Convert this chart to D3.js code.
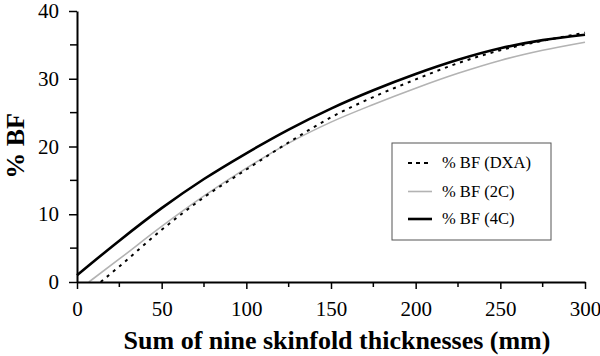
<!DOCTYPE html>
<html>
<head>
<meta charset="utf-8">
<script src="https://cdn.jsdelivr.net/npm/d3@7"></script>
<style>
body{margin:0;background:#fff;}
text{font-family:"Liberation Serif","Times New Roman",serif;}
</style>
</head>
<body>
<svg id="chart" width="600" height="356"></svg>
<script>
// values
var xDXA = [14, 25, 50, 75, 100, 125, 150, 175, 200, 225, 250, 275, 300];
var yDXA = [0, 2.3, 7.7, 12.5, 16.6, 20.6, 24.3, 27.3, 29.9, 32.3, 34.2, 35.6, 36.8];
var x2C = [7, 25, 50, 75, 100, 125, 150, 175, 200, 225, 250, 275, 300];
var y2C = [0, 3.4, 8.2, 12.7, 16.8, 20.5, 23.6, 26.2, 28.6, 30.8, 32.7, 34.2, 35.4];
var x4C = [0, 25, 50, 75, 100, 125, 150, 175, 200, 225, 250, 275, 300];
var y4C = [1.0, 6.1, 10.9, 15.2, 19.0, 22.5, 25.6, 28.3, 30.7, 32.8, 34.5, 35.7, 36.5];
var xTicks = [0, 50, 100, 150, 200, 250, 300];
var yTicks = [0, 10, 20, 30, 40];
var legendLabels = ["% BF (DXA)", "% BF (2C)", "% BF (4C)"];

var svg = d3.select("#chart");
var x = d3.scaleLinear().domain([0, 300]).range([77, 585]);
var y = d3.scaleLinear().domain([0, 40]).range([282, 11]);

var series = [
	{xs: xDXA, ys: yDXA, color: "#000", width: 2, dash: "3,5"},
	{xs: x2C, ys: y2C, color: "#b3b3b3", width: 1.6, dash: null},
	{xs: x4C, ys: y4C, color: "#000", width: 2.6, dash: null}
];

var line = d3.line()
	.x(function(d){ return x(d[0]); })
	.y(function(d){ return y(d[1]); })
	.curve(d3.curveMonotoneX);

// curves (4C drawn last, on top)
[1, 0, 2].forEach(function(k){
	var s = series[k];
	var pts = s.xs.map(function(v, i){ return [v, s.ys[i]]; });
	svg.append("path")
	.attr("d", line(pts))
	.attr("fill", "none")
	.attr("stroke", s.color)
	.attr("stroke-width", s.width)
	.attr("stroke-dasharray", s.dash);
});

// minor ticks
var gMinor = svg.append("g").attr("stroke", "#000").attr("stroke-width", 1.5);
d3.range(25, 300, 50).forEach(function(v){
	gMinor.append("line").attr("x1", x(v)).attr("x2", x(v)).attr("y1", 282).attr("y2", 287);
});
d3.range(5, 40, 10).forEach(function(v){
	gMinor.append("line").attr("x1", 77).attr("x2", 70).attr("y1", y(v)).attr("y2", y(v));
});

// axes
var xAxis = svg.append("g")
	.attr("transform", "translate(0,282)")
	.call(d3.axisBottom(x).tickValues(xTicks).tickSize(7).tickSizeOuter(0).tickPadding(12));
var yAxis = svg.append("g")
	.attr("transform", "translate(77,0)")
	.call(d3.axisLeft(y).tickValues(yTicks).tickSize(8).tickSizeOuter(0).tickPadding(10));
[xAxis, yAxis].forEach(function(a){
	a.select(".domain").attr("stroke", "#000").attr("stroke-width", 2);
	a.selectAll(".tick line").attr("stroke", "#000").attr("stroke-width", 1.5);
	a.selectAll(".tick text").attr("font-family", "Liberation Serif").attr("font-size", 21).attr("fill", "#000");
});

// titles
svg.append("text")
	.attr("x", 337).attr("y", 349)
	.attr("text-anchor", "middle")
	.attr("font-size", 26).attr("font-weight", "bold")
	.text("Sum of nine skinfold thicknesses (mm)");
svg.append("text")
	.attr("transform", "translate(24,146) rotate(-90)")
	.attr("text-anchor", "middle")
	.attr("font-size", 26).attr("font-weight", "bold")
	.text("% BF");

// legend
var lg = svg.append("g");
lg.append("rect")
	.attr("x", 392).attr("y", 143).attr("width", 159).attr("height", 97)
	.attr("fill", "#fff").attr("stroke", "#555").attr("stroke-width", 1);
var rowY = [163, 191.5, 219];
series.forEach(function(s, i){
	lg.append("line")
	.attr("x1", 408).attr("x2", 432).attr("y1", rowY[i]).attr("y2", rowY[i])
	.attr("stroke", s.color).attr("stroke-width", s.width)
	.attr("stroke-dasharray", s.dash ? "4,4" : null);
	lg.append("text")
	.attr("x", 442).attr("y", rowY[i] + 5)
	.attr("font-size", 16.5)
	.text(legendLabels[i]);
});
</script>
</body>
</html>
